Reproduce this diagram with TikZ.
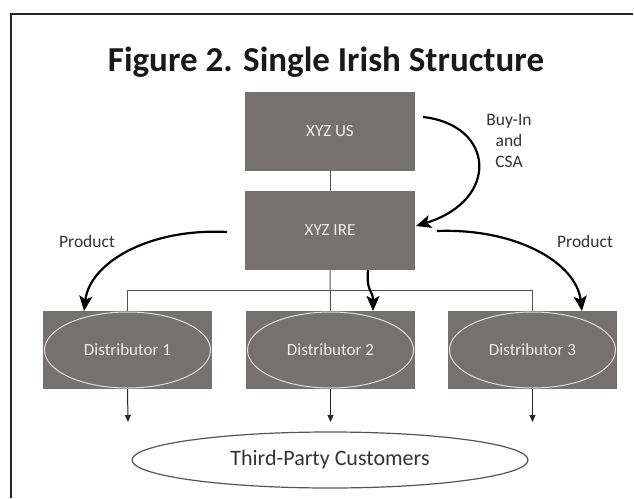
\documentclass[tikz,border=0pt]{standalone}
\usepackage{fontspec}
\setmainfont{Carlito}
\usetikzlibrary{shapes.geometric,arrows.meta}
\definecolor{boxgray}{HTML}{767171}
\definecolor{boxtext}{HTML}{EDEDED}
\definecolor{ellline}{HTML}{DDDDDD}
\definecolor{linegray}{HTML}{555555}
\definecolor{textdark}{HTML}{333333}
\begin{document}
\begin{tikzpicture}[x=1pt,y=-1pt,
 titletext/.style={text=black!90, font=\fontsize{35}{40}\selectfont\bfseries, inner sep=0pt},
 entity/.style={fill=boxgray, minimum width=170pt, minimum height=79pt, inner sep=0pt, text=boxtext, font=\fontsize{17}{20}\selectfont},
 dbox/.style={fill=boxgray, minimum width=169pt, minimum height=78pt, inner sep=0pt},
 dell/.style={ellipse, draw=ellline, line width=1pt, minimum width=166pt, minimum height=76pt, inner sep=0pt, text=boxtext, font=\fontsize{17}{20}\selectfont},
 cust/.style={ellipse, draw=linegray, line width=1.2pt, fill=white, minimum width=396pt, minimum height=56pt, inner sep=0pt, text=textdark, font=\fontsize{22}{26}\selectfont},
 link/.style={draw=linegray, line width=1pt},
 flow/.style={draw=black, line width=2.2pt, -{Stealth[length=15pt,width=13pt,inset=3.5pt]}},
 outarrow/.style={draw=black!85, line width=1pt, -{Triangle[length=7pt,width=6pt]}},
 lab/.style={text=textdark, font=\fontsize{17.5}{21}\selectfont, align=center, inner sep=0pt}
]
\useasboundingbox (0,0) rectangle (634,498);
\fill[white] (0,0) rectangle (634,498);
\draw[line width=2.5pt, draw=black!85] (633,14) -- (11,14) -- (11,498);

\node[titletext] (title) at (326,62) {Figure 2. Single Irish Structure};

\node[entity] (us) at (330,131.5) {XYZ US};
\node[entity] (ire) at (330,230.5) {XYZ IRE};

\node[dbox] (b1) at (127.5,350) {};
\node[dell] (d1) at (127.5,350) {Distributor 1};
\node[dbox] (b2) at (330.5,350) {};
\node[dell] (d2) at (330.5,350) {Distributor 2};
\node[dbox] (b3) at (532.5,350) {};
\node[dell] (d3) at (532.5,350) {Distributor 3};

\node[cust] (cust) at (330,460) {Third-Party Customers};

\node[lab] (buy) at (509,141) {Buy-In\\and\\CSA};
\node[lab] (pl) at (87,241) {Product};
\node[lab] (pr) at (585,241) {Product};

% tree connectors
\coordinate (bus) at (330,290);
\draw[link] (us.south) -- (ire.north);
\draw[link] (ire.south) -- (b2.north);
\draw[link] (b1.north) -- (b1.north |- bus) -- (b3.north |- bus) -- (b3.north);

% flows
\coordinate (cs) at (423,117);
\coordinate (ce) at (416,226);
\draw[flow] (cs) .. controls (495,125) and (500,200) .. (ce);

\coordinate (ls) at (227,232);
\coordinate (le) at (84,311);
\draw[flow] (ls) .. controls (150,228) and (90,262) .. (le);

\coordinate (rs) at (437,231);
\coordinate (re) at (582,311);
\draw[flow] (rs) .. controls (515,228) and (576,262) .. (re);

\coordinate (ms) at (368,270);
\coordinate (me) at (373,311);
\draw[flow] (ms) .. controls (366,292) and (373,290) .. (me);

% to customers
\coordinate (o1) at (128,422);
\coordinate (o2) at (330.5,422);
\coordinate (o3) at (532.5,422);
\draw[outarrow] (b1.south) -- (o1);
\draw[outarrow] (b2.south) -- (o2);
\draw[outarrow] (b3.south) -- (o3);
\end{tikzpicture}
\end{document}
